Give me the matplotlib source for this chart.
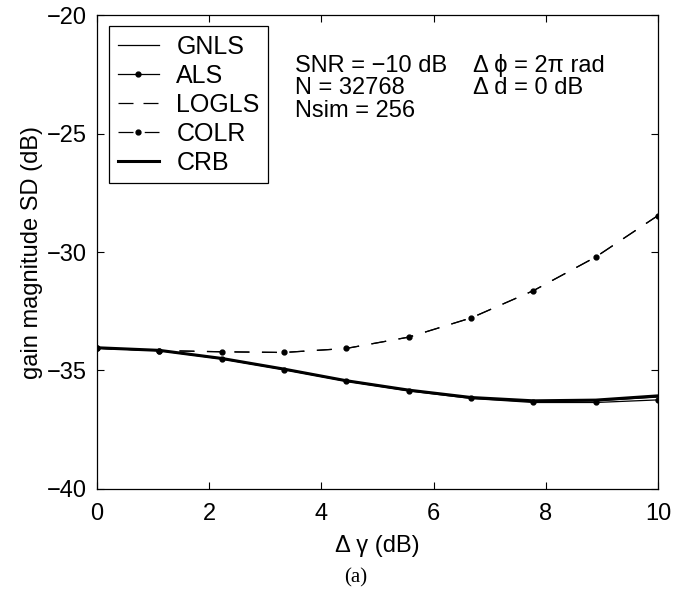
import matplotlib
matplotlib.use('Agg')
import matplotlib.pyplot as plt
from matplotlib.lines import Line2D

plt.rcParams['font.family'] = ['Liberation Sans', 'DejaVu Sans']

# Delta gamma grid (dB)
dgamma = [0, 1.11, 2.22, 3.33, 4.44, 5.56, 6.67, 7.78, 8.89, 10]

# gain magnitude SD (dB)
gnls = [-34.05, -34.15, -34.50, -34.95, -35.44, -35.84, -36.15, -36.30, -36.28, -36.12]
als = [-34.06, -34.16, -34.51, -34.96, -35.45, -35.86, -36.18, -36.35, -36.35, -36.24]
logls = [-34.06, -34.16, -34.21, -34.24, -34.07, -33.59, -32.78, -31.63, -30.21, -28.46]
colr = [-34.06, -34.16, -34.21, -34.24, -34.07, -33.59, -32.78, -31.63, -30.21, -28.46]
crb = [-34.04, -34.15, -34.49, -34.94, -35.43, -35.83, -36.14, -36.28, -36.25, -36.07]

labels = ['GNLS', 'ALS', 'LOGLS', 'COLR', 'CRB']

fig = plt.figure(figsize=(6.85, 5.91), dpi=100)
ax = fig.add_axes([0.1416, 0.1726, 0.819, 0.802])

thin = 0.9
ax.plot(dgamma, gnls, '-', color='k', lw=thin)
ax.plot(dgamma, als, '-', color='k', lw=thin, marker='.', ms=7)
ax.plot(dgamma, logls, color='k', lw=thin, dashes=(12, 10))
# COLR sits on top of LOGLS, so its line is drawn with the same dash pattern
ax.plot(dgamma, colr, color='k', lw=thin, dashes=(12, 10), marker='.', ms=7)
ax.plot(dgamma, crb, '-', color='k', lw=2.2)

handles = [
    Line2D([], [], color='k', lw=thin),
    Line2D([], [], color='k', lw=thin, marker='.', ms=7),
    Line2D([], [], color='k', lw=thin, dashes=(12, 8)),
    Line2D([], [], color='k', lw=thin, dashes=(12, 4, 1, 4), marker='.', ms=7),
    Line2D([], [], color='k', lw=2.2),
]

ax.set_xlim(0, 10)
ax.set_ylim(-40, -20)
ax.set_xticks([0, 2, 4, 6, 8, 10])
ax.set_yticks([-40, -35, -30, -25, -20])
ax.tick_params(direction='in', length=5, width=0.8, labelsize=17,
               top=True, right=True)
ax.tick_params(axis='x', pad=10)
ax.tick_params(axis='y', pad=7)
for s in ax.spines.values():
    s.set_linewidth(0.9)

ax.set_xlabel('Δ γ (dB)', fontsize=17, labelpad=7)
ax.set_ylabel('gain magnitude SD (dB)', fontsize=17, labelpad=3)

leg = ax.legend(handles, labels, loc='upper left', bbox_to_anchor=(0.021, 0.977),
                fontsize=18, frameon=True, fancybox=False, edgecolor='k',
                framealpha=1, handlelength=1.65, handletextpad=0.7,
                labelspacing=0.2, borderpad=0.35, borderaxespad=0)
leg.get_frame().set_linewidth(0.9)

info = dict(fontsize=17, va='baseline', ha='left', transform=fig.transFigure)
fig.text(295 / 685, 1 - 71.7 / 591, 'SNR = −10 dB', **info)
fig.text(295 / 685, 1 - 94 / 591, 'N = 32768', **info)
fig.text(295 / 685, 1 - 117 / 591, 'Nsim = 256', **info)
fig.text(473 / 685, 1 - 71.7 / 591, 'Δ ϕ = 2π rad', **info)
fig.text(473 / 685, 1 - 94 / 591, 'Δ d = 0 dB', **info)

fig.text(356 / 685, 1 - 578 / 591, '(a)', fontsize=15, ha='center', va='center',
         family='Liberation Serif')

fig.savefig('out.png', dpi=100)
